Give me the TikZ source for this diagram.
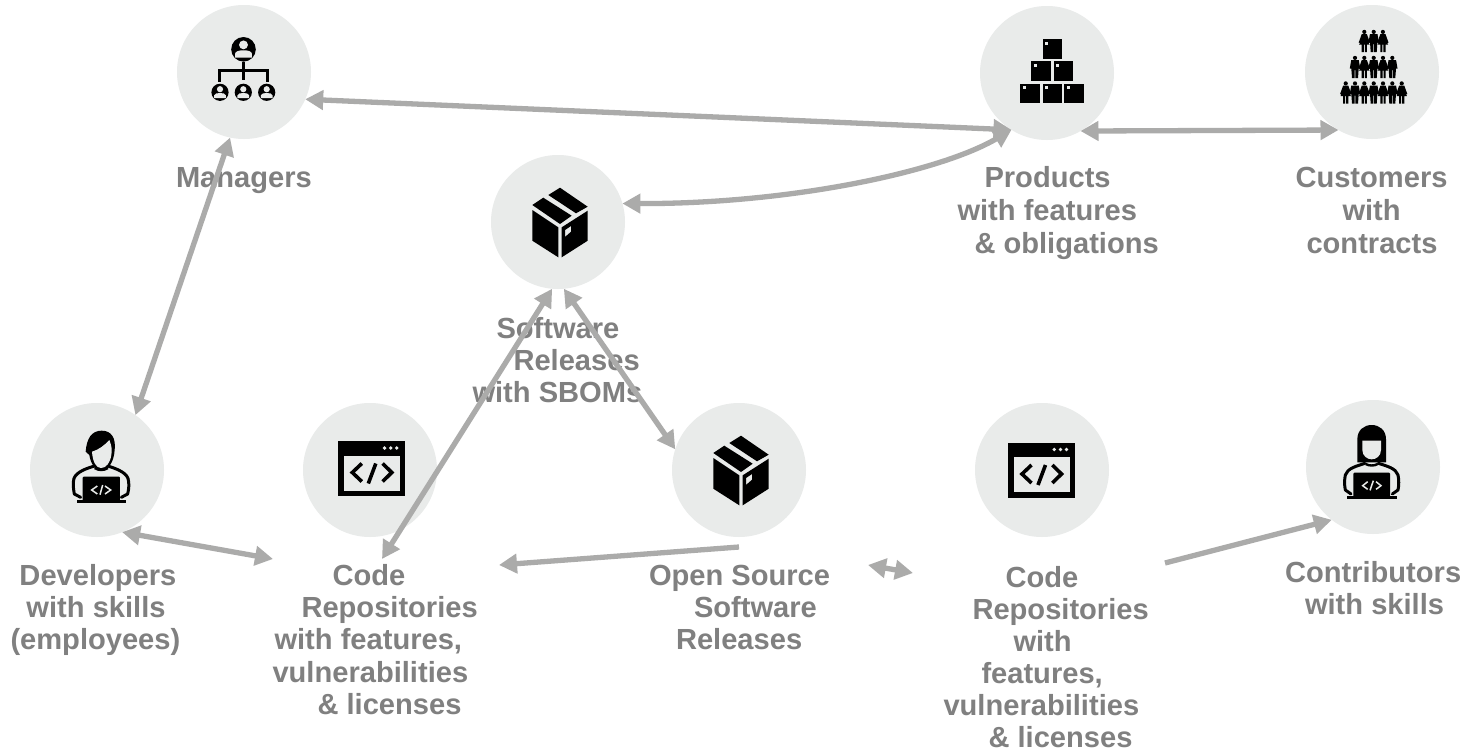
\documentclass[tikz,border=0pt]{standalone}
\usepackage{fontspec}
\setmainfont{Liberation Sans}
\usetikzlibrary{arrows.meta}
\definecolor{disc}{HTML}{E9EBEA}
\definecolor{linkgray}{HTML}{ABABAA}
\definecolor{txtgray}{HTML}{808080}
\newcommand{\fl}{\rule{0pt}{22pt}}
\newcommand{\ind}[1]{\hspace*{#1pt}}
\tikzset{
  Hd/.tip={Triangle[length=18pt,width=19pt]},
  disk/.style={circle,fill=disc,minimum size=134pt,inner sep=0pt,outer sep=0pt},
  lbl/.style={anchor=north west,inner sep=0pt,outer sep=0pt,align=left,text=txtgray,
    font=\fontsize{29.1}{#1}\selectfont\bfseries},
  lbl/.default=32.4,
  both/.style={draw=linkgray,line width=5.3pt,Hd-Hd},
  single/.style={draw=linkgray,line width=5.3pt,-Hd},
  boxicon/.pic={
    \fill[black] (-27.7,-13) -- (-1.7,4.3) -- (-1.7,34.3) -- (-27.7,17.7) -- cycle;
    \fill[black,even odd rule] (1.7,4.3) -- (27.7,-12.3) -- (27.7,17.7) -- (1.7,34.3) -- cycle
      (5,7) -- (11,3) -- (11,8.7) -- (5,14) -- cycle;
    \fill[black] (-27.7,-18) -- (-16.7,-25.3) -- (11.7,-7.3) -- (0,1) -- cycle;
    \fill[black] (-11.7,-28) -- (0,-35.3) -- (27.7,-16.3) -- (16,-9.7) -- cycle;
  },
  codeicon/.pic={
    \fill[black] (-33.5,-27.5) rectangle (33.5,27.5);
    \fill[disc] (-28,-12.8) rectangle (28.5,22);
    \foreach \dx in {12.8,19,25}{\fill[disc] (\dx,-20.5) circle (1.9);}
    \draw[black,line width=3.6pt] (-10,-5) -- (-19.5,4) -- (-10,13);
    \draw[black,line width=3.6pt] (4,-5) -- (-3.5,15);
    \draw[black,line width=3.6pt] (10.8,-5) -- (20,4) -- (10.8,13);
  },
  badge/.pic={
    \fill[black] (0,0) circle (1);
    \fill[disc] (0,-.36) circle (.36);
    \fill[disc] (-.68,.68) -- (-.68,.35) .. controls (-.68,.15) and (-.3,.08) .. (0,.08)
       .. controls (.3,.08) and (.68,.15) .. (.68,.35) -- (.68,.68) -- cycle;
  },
  manicon/.pic={
    \fill[black] (0,1.9) circle (2.1);
    \fill[black] (-3.8,4.2) -- (3.8,4.2) -- (5.2,12.5) -- (3.7,12.5) -- (3,22) -- (.4,22) -- (.4,14)
      -- (-.4,14) -- (-.4,22) -- (-3,22) -- (-3.7,12.5) -- (-5.2,12.5) -- cycle;
  },
  womanicon/.pic={
    \fill[black] (0,1.9) circle (2.1);
    \fill[black] (-2.6,4.2) -- (2.6,4.2) -- (5.6,12.5) -- (4.4,13) -- (5.2,14.5) -- (2.6,14.5) -- (2.6,22) -- (.5,22) -- (.5,14.5)
      -- (-.5,14.5) -- (-.5,22) -- (-2.6,22) -- (-2.6,14.5) -- (-5.2,14.5) -- (-4.4,13) -- (-5.6,12.5) -- cycle;
  },
}
\begin{document}
\begin{tikzpicture}[x=1pt,y=-1pt]
\useasboundingbox[fill=white] (0,0) rectangle (1465,750);
% discs
\node[disk] (mgr) at (244,72) {};
\node[disk] (prod) at (1047,73) {};
\node[disk] (cust) at (1372,72) {};
\node[disk] (rel) at (558,222) {};
\node[disk] (dev) at (97,470) {};
\node[disk] (code) at (370,470) {};
\node[disk] (oss) at (739,470) {};
\node[disk] (codeb) at (1042,470) {};
\node[disk] (ctr) at (1373,467) {};
% labels
\node[lbl] (lmgr) at (176,165) {\fl Managers};
\node[lbl=33] (lprod) at (957.5,165) {\fl\ind{27}Products\\\ind{0}with features\\\ind{17}\& obligations};
\node[lbl=33] (lcust) at (1295.5,165) {\fl Customers\\\ind{47}with\\\ind{11}contracts};
\node[lbl] (lrel) at (472.5,316) {\fl\ind{24}Software\\\ind{41}Releases\\with SBOMs};
\node[lbl] (ldev) at (10.5,563) {\fl\ind{9}Developers\\\ind{16}with skills\\(employees)};
\node[lbl] (lcode) at (272.5,563) {\fl\ind{60}Code\\\ind{29}Repositories\\\ind{2}with features,\\vulnerabilities\\\ind{45}\& licenses};
\node[lbl] (loss) at (649,563) {\fl Open Source\\\ind{45}Software\\\ind{27}Releases};
\node[lbl=32] (lcodeb) at (943.5,565) {\fl\ind{62}Code\\\ind{29}Repositories\\\ind{70}with\\\ind{38}features,\\vulnerabilities\\\ind{45}\& licenses};
\node[lbl] (lctr) at (1285,560) {\fl Contributors\\\ind{20}with skills};
% managers icon
\begin{scope}[shift={(170,0)},scale=1/3]
  \draw[black,line width=3pt] (220,185) -- (220,240);
  \draw[black,line width=3pt] (149,245) -- (149,212) -- (292,212) -- (292,245);
\end{scope}
\pic[scale=12.3] at (243.5,49.3) {badge};
\pic[scale=8.6] at (220,92.3) {badge};
\pic[scale=8.6] at (243.3,92.3) {badge};
\pic[scale=8.6] at (266.7,92.3) {badge};
% products icon
\foreach \bx/\by in {1042.7/39.3, 1031.3/61.3, 1053.7/61.3, 1020.3/83.5, 1042.7/83.5, 1064.3/83.5}{
  \fill[black] (\bx,\by) rectangle ++(19.7,19.7);
  \fill[disc] (\bx+2.3,\by+2.3) rectangle ++(3.4,3.4);
}
% customers icon
\foreach \px in {1364.3,1382.9}{\pic at (\px,30) {womanicon};}
\pic at (1373.7,30) {manicon};
\foreach \px in {1355,1373.7,1392.3}{\pic at (\px,56) {manicon};}
\foreach \px in {1364.3,1383}{\pic at (\px,56) {womanicon};}
\foreach \px in {1345.7,1364.3,1383,1401.7}{\pic at (\px,81.5) {womanicon};}
\foreach \px in {1355,1373.7,1392.3}{\pic at (\px,81.5) {manicon};}
% boxes and code windows
\pic at (560,223) {boxicon};
\pic at (741,471) {boxicon};
\pic at (371.8,468.5) {codeicon};
\pic at (1041.5,470) {codeicon};
% developer icon
\begin{scope}[shift={(20,400)},scale=1/3]
  \fill[black] (197,155) .. controls (200,115) and (215,92) .. (245,92) .. controls (275,92) and (288,115) .. (284,150)
     .. controls (282,185) and (265,212) .. (243,212) .. controls (225,212) and (212,190) .. (208,165) -- cycle;
  \fill[disc] (216,155) .. controls (235,150) and (255,135) .. (268,120) .. controls (276,140) and (276,150) .. (274,165)
     .. controls (270,190) and (258,204) .. (243,204) .. controls (228,204) and (218,185) .. (216,155) -- cycle;
  \draw[black,line width=3pt,line cap=round,line join=round] (182,292) -- (163,282) .. controls (160,265) and (158,250) .. (162,235)
     .. controls (170,215) and (200,205) .. (224,198);
  \draw[black,line width=3pt,line cap=round,line join=round] (304,292) -- (323,282) .. controls (327,265) and (328,250) .. (324,235)
     .. controls (316,215) and (285,205) .. (264,198);
  \draw[black,line width=2.4pt] (224,204) .. controls (235,212) and (252,212) .. (264,204);
  \fill[black,rounded corners=1pt] (188,230) rectangle (300,302);
  \fill[black] (170,300) rectangle (318,309);
  \draw[disc,line width=1.5pt] (232,258) -- (215,270) -- (232,282);
  \draw[disc,line width=1.5pt] (248,255) -- (240,284);
  \draw[disc,line width=1.5pt] (255,258) -- (272,270) -- (255,282);
\end{scope}
% contributor icon
\begin{scope}[shift={(1300,400)},scale=1/3]
  \fill[black] (172,187) -- (172,118) .. controls (172,90) and (192,75) .. (215,75) .. controls (238,75) and (258,90) .. (258,118)
     -- (258,187) -- cycle;
  \fill[disc] (187,122) -- (243,122) -- (243,150) .. controls (243,168) and (228,178) .. (215,178)
     .. controls (202,178) and (187,168) .. (187,150) -- cycle;
  \draw[black,line width=3pt,line cap=round,line join=round] (153,282) -- (136,270) .. controls (133,255) and (133,240) .. (136,225)
     .. controls (142,205) and (170,198) .. (195,190);
  \draw[black,line width=3pt,line cap=round,line join=round] (277,282) -- (294,270) .. controls (297,255) and (297,240) .. (294,225)
     .. controls (288,205) and (260,198) .. (235,190);
  \draw[black,line width=2.4pt] (197,192) .. controls (207,198) and (223,198) .. (233,192);
  \fill[black,rounded corners=1pt] (160,218) rectangle (270,290);
  \fill[black] (142,287) rectangle (290,297);
  \draw[disc,line width=1.5pt] (203,245) -- (188,257) -- (203,268);
  \draw[disc,line width=1.5pt] (220,242) -- (210,271);
  \draw[disc,line width=1.5pt] (228,245) -- (243,257) -- (228,268);
\end{scope}
% connectors
\coordinate (devend) at (273,559);
\coordinate (codeend) at (382,559);
\coordinate (osstail) at (739,547);
\coordinate (ossend) at (499,565);
\coordinate (gapa) at (868,565);
\coordinate (gapb) at (913,573);
\coordinate (ctrtail) at (1165,563);
\draw[both] (mgr.-24.7) -- (prod.238.4);
\draw[both] (prod.238.4) .. controls (940,172) and (790,204) .. (rel.16.5);
\draw[both] (prod.-60.8) -- (cust.240.9);
\draw[both] (mgr.258.9) -- (dev.55.1);
\draw[both] (dev.-68) -- (devend);
\draw[both] (rel.265.7) -- (codeend);
\draw[both] (rel.-85) -- (oss.162.6);
\draw[single] (osstail) -- (ossend);
\draw[both] (gapa) -- (gapb);
\draw[single] (ctrtail) -- (ctr.232.8);
\end{tikzpicture}
\end{document}
